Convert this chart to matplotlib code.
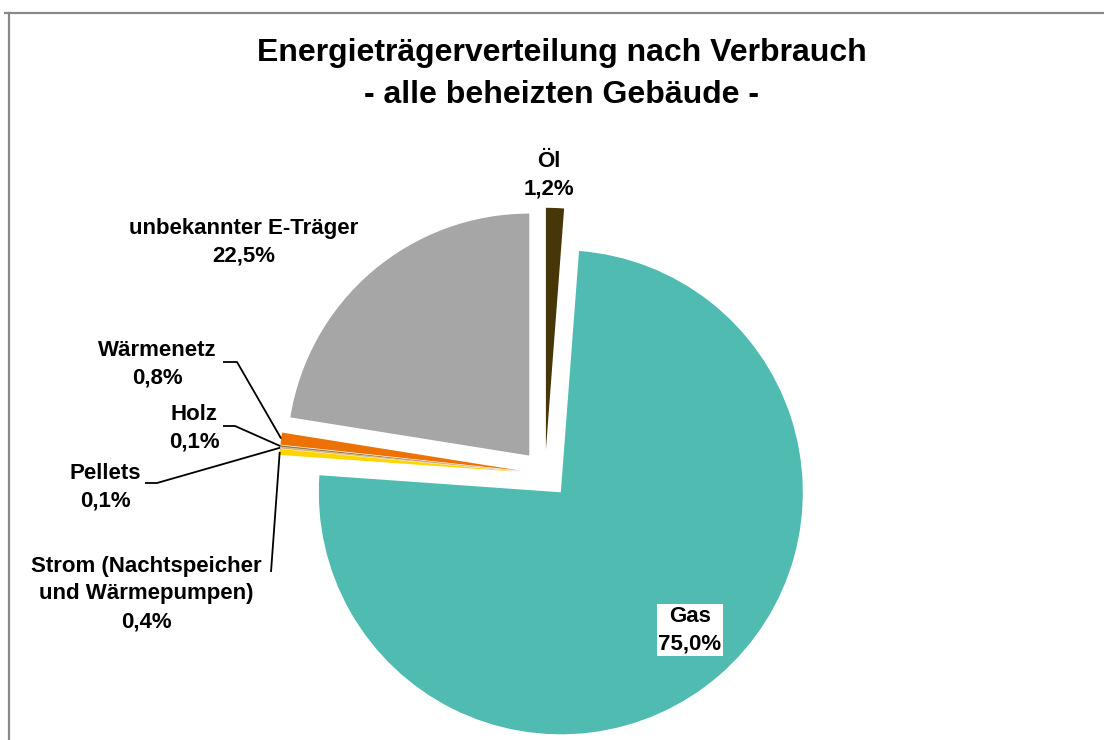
import numpy as np
import matplotlib.pyplot as plt
from matplotlib.lines import Line2D

plt.rcParams['font.family'] = ['Liberation Sans', 'DejaVu Sans']

# energy carriers, clockwise from 12 o'clock
carriers = ['Öl', 'Gas', 'Strom (Nachtspeicher\nund Wärmepumpen)', 'Pellets',
            'Holz', 'Wärmenetz', 'unbekannter E-Träger']
shares = [1.2, 75.0, 0.4, 0.1, 0.1, 0.8, 22.5]
colors = ['#47360a', '#4fbbb1', '#ffd500', '#d2b07a', '#9c7a48', '#ee7203', '#a6a6a6']

# pie geometry in pixels (radius is the data unit)
R = 242
CX, CY = 545, 474


def px(x, y):
    return (x - CX) / R, (CY - y) / R


fig = plt.figure(figsize=(11.04, 7.40), dpi=100)
ax = fig.add_axes([0, 0, 1, 1])

wedges, _ = ax.pie(shares, colors=colors, startangle=90, counterclock=False,
                   explode=[0.1] * len(shares), radius=1,
                   wedgeprops=dict(linewidth=0))
ax.set_xlim(px(0, 0)[0], px(1104, 0)[0])
ax.set_ylim(px(0, 740)[1], px(0, 0)[1])
ax.set_aspect('equal')
ax.axis('off')


def label(i):
    return f'{carriers[i]}\n{shares[i]:.1f}%'.replace('.', ',')


def edge_point(w):
    mid = np.deg2rad((w.theta1 + w.theta2) / 2)
    cx, cy = w.center
    return cx + w.r * np.cos(mid), cy + w.r * np.sin(mid)


txt = dict(ha='center', va='center', fontsize=16, fontweight='bold', linespacing=1.42)

ax.text(*px(549, 175), label(0), **txt)
ax.text(*px(690, 630), label(1), bbox=dict(facecolor='white', edgecolor='none', pad=1.0), **txt)
ax.text(*px(146, 594), label(2), **txt)
ax.text(*px(105, 487), label(3), **txt)
ax.text(*px(194, 428), label(4), **txt)
ax.text(*px(157, 364), label(5), **txt)
ax.text(*px(244, 242), label(6), **txt)

# leader lines from the small slices to their labels
leaders = {
    2: [(271, 572)],
    3: [(145, 483), (157, 483)],
    4: [(223, 426), (235, 426)],
    5: [(223, 362), (237, 362)],
}
for i, pts in leaders.items():
    xs = [px(*p)[0] for p in pts]
    ys = [px(*p)[1] for p in pts]
    ex, ey = edge_point(wedges[i])
    ax.plot(xs + [ex], ys + [ey], color='black', lw=1.3, solid_capstyle='butt')

fig.text(562 / 1104, 1 - 74 / 740,
         'Energieträgerverteilung nach Verbrauch\n- alle beheizten Gebäude -',
         ha='center', va='center', fontsize=23, fontweight='bold', linespacing=1.5)

# chart frame
fig.add_artist(Line2D([5 / 1104, 1], [1 - 13 / 740] * 2, color='#888888', lw=1.6))
fig.add_artist(Line2D([9 / 1104] * 2, [1 - 13 / 740, 0], color='#888888', lw=1.6))

fig.savefig('out.png', dpi=100)
